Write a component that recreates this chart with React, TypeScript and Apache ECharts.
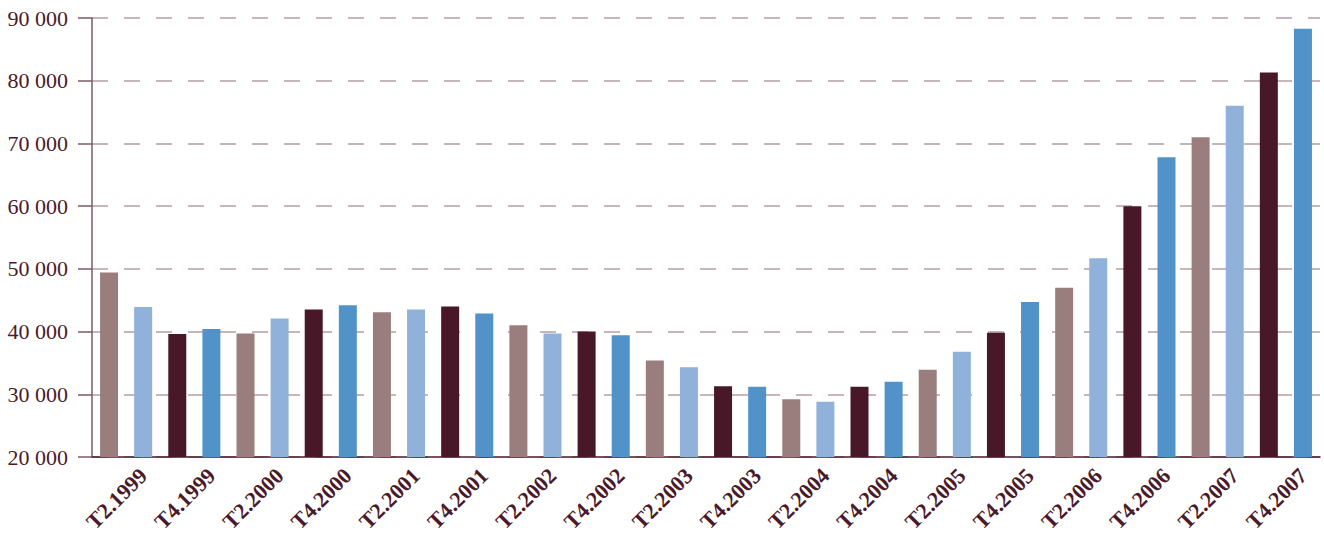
import { useEffect, useRef } from "react";
import * as echarts from "echarts";

// Quarterly periods, T1.1999 .. T4.2007
const quarters = [
  "T1.1999", "T2.1999", "T3.1999", "T4.1999",
  "T1.2000", "T2.2000", "T3.2000", "T4.2000",
  "T1.2001", "T2.2001", "T3.2001", "T4.2001",
  "T1.2002", "T2.2002", "T3.2002", "T4.2002",
  "T1.2003", "T2.2003", "T3.2003", "T4.2003",
  "T1.2004", "T2.2004", "T3.2004", "T4.2004",
  "T1.2005", "T2.2005", "T3.2005", "T4.2005",
  "T1.2006", "T2.2006", "T3.2006", "T4.2006",
  "T1.2007", "T2.2007", "T3.2007", "T4.2007",
];

const values = [
  49400, 43900, 39600, 40400,
  39700, 42100, 43500, 44200,
  43100, 43500, 44000, 42900,
  41000, 39700, 40000, 39400,
  35400, 34300, 31300, 31200,
  29200, 28800, 31200, 32000,
  33900, 36800, 39800, 44700,
  47000, 51700, 60000, 67800,
  71000, 76000, 81300, 88300,
];

// One colour per quarter (T1, T2, T3, T4)
const quarterColors = ["#9a7e7d", "#8fb1da", "#481828", "#5193c8"];

const yMin = 20000;
const yMax = 90000;
const yStep = 10000;

const textColor = "#4a1a2a";
const axisColor = "#7d5b64";
const serif = "'Liberation Serif', 'DejaVu Serif', serif";

export default function App() {
  const ref = useRef<HTMLDivElement>(null);

  useEffect(() => {
    if (!ref.current) return;
    const chart = echarts.init(ref.current, null, { renderer: "svg" });
    chart.setOption({
      animation: false,
      backgroundColor: "#ffffff",
      grid: { left: 92, top: 18, width: 1228, height: 439, containLabel: false },
      xAxis: {
        type: "category",
        data: quarters,
        boundaryGap: true,
        axisLine: { show: true, lineStyle: { color: textColor, width: 1.5 } },
        axisTick: { show: false },
        axisLabel: {
          interval: (index: number) => index % 4 === 1 || index % 4 === 3,
          rotate: 45,
          margin: 15,
          color: textColor,
          fontFamily: serif,
          fontWeight: "bold",
          fontSize: 22,
        },
        splitLine: { show: false },
      },
      yAxis: {
        type: "value",
        min: yMin,
        max: yMax,
        interval: yStep,
        axisLine: { show: true, lineStyle: { color: axisColor, width: 1.5 } },
        axisTick: { show: true, length: 14, lineStyle: { color: axisColor, width: 1.5 } },
        axisLabel: {
          margin: 24,
          color: textColor,
          fontFamily: serif,
          fontSize: 22,
          formatter: (v: number) => String(v).replace(/\B(?=(\d{3})+(?!\d))/g, " "),
        },
        splitLine: {
          show: true,
          lineStyle: { color: "#b59fa3", width: 1.5, type: [16, 16] },
        },
      },
      series: [
        {
          type: "bar",
          data: values,
          barWidth: 18,
          itemStyle: {
            color: (p: any) => quarterColors[p.dataIndex % 4],
          },
        },
      ],
    });
    return () => chart.dispose();
  }, []);

  return (
    <div
      ref={ref}
      style={{ position: "fixed", left: 0, top: 0, width: 1324, height: 536, background: "#fff" }}
    />
  );
}
